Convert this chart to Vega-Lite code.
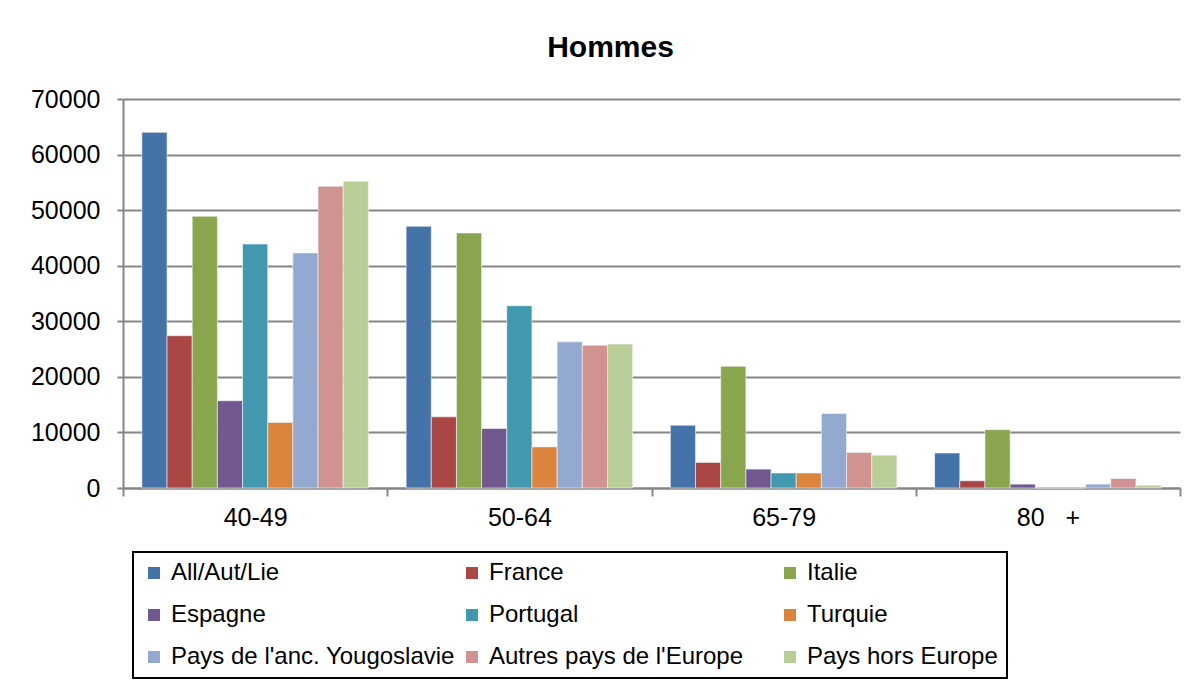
{
  "$schema": "https://vega.github.io/schema/vega-lite/v6.json",
  "width": 1057,
  "height": 389,
  "autosize": {"type": "none"},
  "padding": {"left": 123, "top": 99, "right": 22, "bottom": 199},
  "background": "white",
  "title": {"text": "Hommes", "fontSize": 30, "fontWeight": "bold", "font": "Liberation Sans", "color": "black", "offset": 24, "dx": -41},
  "data": {"values": [
    {"age": "40-49", "pays": "All/Aut/Lie", "valeur": 64000},
    {"age": "40-49", "pays": "France", "valeur": 27400},
    {"age": "40-49", "pays": "Italie", "valeur": 48900},
    {"age": "40-49", "pays": "Espagne", "valeur": 15700},
    {"age": "40-49", "pays": "Portugal", "valeur": 43900},
    {"age": "40-49", "pays": "Turquie", "valeur": 11800},
    {"age": "40-49", "pays": "Pays de l'anc. Yougoslavie", "valeur": 42300},
    {"age": "40-49", "pays": "Autres pays de l'Europe", "valeur": 54300},
    {"age": "40-49", "pays": "Pays hors Europe", "valeur": 55200},
    {"age": "50-64", "pays": "All/Aut/Lie", "valeur": 47100},
    {"age": "50-64", "pays": "France", "valeur": 12800},
    {"age": "50-64", "pays": "Italie", "valeur": 45900},
    {"age": "50-64", "pays": "Espagne", "valeur": 10700},
    {"age": "50-64", "pays": "Portugal", "valeur": 32800},
    {"age": "50-64", "pays": "Turquie", "valeur": 7400},
    {"age": "50-64", "pays": "Pays de l'anc. Yougoslavie", "valeur": 26300},
    {"age": "50-64", "pays": "Autres pays de l'Europe", "valeur": 25700},
    {"age": "50-64", "pays": "Pays hors Europe", "valeur": 25900},
    {"age": "65-79", "pays": "All/Aut/Lie", "valeur": 11300},
    {"age": "65-79", "pays": "France", "valeur": 4600},
    {"age": "65-79", "pays": "Italie", "valeur": 21900},
    {"age": "65-79", "pays": "Espagne", "valeur": 3400},
    {"age": "65-79", "pays": "Portugal", "valeur": 2700},
    {"age": "65-79", "pays": "Turquie", "valeur": 2700},
    {"age": "65-79", "pays": "Pays de l'anc. Yougoslavie", "valeur": 13400},
    {"age": "65-79", "pays": "Autres pays de l'Europe", "valeur": 6400},
    {"age": "65-79", "pays": "Pays hors Europe", "valeur": 5900},
    {"age": "80  +", "pays": "All/Aut/Lie", "valeur": 6300},
    {"age": "80  +", "pays": "France", "valeur": 1300},
    {"age": "80  +", "pays": "Italie", "valeur": 10500},
    {"age": "80  +", "pays": "Espagne", "valeur": 700},
    {"age": "80  +", "pays": "Portugal", "valeur": 0},
    {"age": "80  +", "pays": "Turquie", "valeur": 0},
    {"age": "80  +", "pays": "Pays de l'anc. Yougoslavie", "valeur": 700},
    {"age": "80  +", "pays": "Autres pays de l'Europe", "valeur": 1700},
    {"age": "80  +", "pays": "Pays hors Europe", "valeur": 500}
  ]},
  "mark": {"type": "bar", "stroke": "#f4f6fa", "strokeWidth": 0.6},
  "encoding": {
    "x": {
      "field": "age", "type": "nominal", "sort": ["40-49", "50-64", "65-79", "80  +"],
      "scale": {"paddingInner": 0, "paddingOuter": 0},
      "axis": {"title": null, "labelAngle": 0, "labelFont": "Liberation Sans", "labelFontSize": 25, "labelColor": "black",
               "labelExpr": "replace(datum.label, '  ', '\u00a0\u00a0\u00a0')",
               "tickBand": "extent", "tickSize": 8, "tickColor": "#868686", "tickWidth": 2, "domainColor": "#868686", "domainWidth": 2,
               "labelPadding": 9, "grid": false}
    },
    "xOffset": {"field": "pays", "type": "nominal",
      "sort": ["All/Aut/Lie", "France", "Italie", "Espagne", "Portugal", "Turquie", "Pays de l'anc. Yougoslavie", "Autres pays de l'Europe", "Pays hors Europe"],
      "scale": {"paddingInner": 0, "paddingOuter": 0.75}},
    "y": {
      "field": "valeur", "type": "quantitative",
      "scale": {"domain": [0, 70000]},
      "axis": {"title": null, "values": [0, 10000, 20000, 30000, 40000, 50000, 60000, 70000], "format": "d",
               "labelFont": "Liberation Sans", "labelFontSize": 25, "labelColor": "black", "labelPadding": 17,
               "tickSize": 6, "tickColor": "#868686", "tickWidth": 2, "domainColor": "#868686", "domainWidth": 2,
               "grid": true, "gridColor": "#868686", "gridWidth": 2}
    },
    "color": {
      "field": "pays", "type": "nominal",
      "scale": {
        "domain": ["All/Aut/Lie", "France", "Italie", "Espagne", "Portugal", "Turquie", "Pays de l'anc. Yougoslavie", "Autres pays de l'Europe", "Pays hors Europe"],
        "range": ["#4572A7", "#AA4643", "#89A54E", "#71588F", "#4198AF", "#DB843D", "#93A9CF", "#D19392", "#B9CD96"]
      },
      "legend": {
        "title": null, "orient": "none", "legendX": 10, "legendY": 453, "direction": "horizontal",
        "columns": 3, "gridAlign": "all", "columnPadding": 5, "rowPadding": 18,
        "symbolType": "square", "symbolSize": 144, "symbolStrokeWidth": 0, "symbolOffset": 0,
        "labelFont": "Liberation Sans", "labelFontSize": 24, "labelColor": "black", "labelOffset": 5, "labelLimit": 400,
        "strokeColor": "black", "padding": 9
      }
    }
  },
  "config": {"view": {"stroke": null}, "legend": {"strokeWidth": 2}}
}
